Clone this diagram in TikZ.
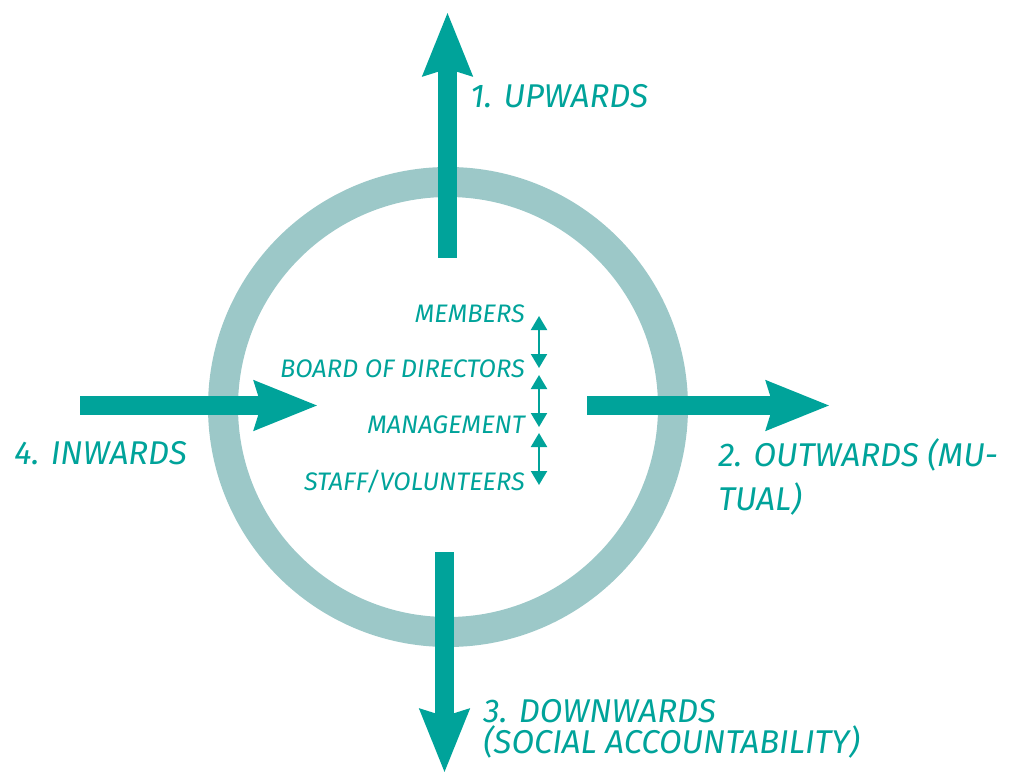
\documentclass[tikz,border=0pt]{standalone}
\usepackage{fontspec}
\newfontfamily\lbl{Fira Sans}
\usetikzlibrary{arrows.meta}
\definecolor{teal1}{HTML}{00A39A}
\definecolor{ringc}{HTML}{9CC8C8}
\tikzset{
  bigarrow/.style={draw=teal1, line width=14.25pt,
    -{Stealth[length=47pt, width=35.5pt, inset=4.5pt]}},
  smallarrow/.style={draw=teal1, line width=1.6pt,
    {Stealth[length=10.5pt, width=12pt, inset=0pt]}-{Stealth[length=10.5pt, width=12pt, inset=0pt]}},
  biglabel/.style={text=teal1, font=\lbl\itshape\fontsize{24.7}{33}\selectfont, inner sep=0pt, align=left},
  smalllabel/.style={text=teal1, font=\lbl\itshape\fontsize{19}{22}\selectfont, inner sep=0pt},
  ringstyle/.style={draw=ringc, line width=22.5pt}
}
\begin{document}
\begin{tikzpicture}[x=0.75pt, y=-0.75pt]
\useasboundingbox (0,0) rectangle (1019,773);
% ring
\coordinate (c) at (448,407);
\draw[ringstyle] (c) circle (168.75pt);
% big arrows
\coordinate (upS) at (447.5,258);
\coordinate (upE) at (447.5,12);
\coordinate (rtS) at (587,405.5);
\coordinate (rtE) at (830,405.5);
\coordinate (inS) at (80,405.5);
\coordinate (inE) at (318,405.5);
\coordinate (dnS) at (444.5,552);
\coordinate (dnE) at (444.5,773);
\draw[bigarrow] (upS) -- (upE);
\draw[bigarrow] (rtS) -- (rtE);
\draw[bigarrow] (inS) -- (inE);
\draw[bigarrow] (dnS) -- (dnE);
% big labels
\node[biglabel, anchor=base west] (l1) at (470,108) {1. UPWARDS};
\node[biglabel, anchor=base west] (l2a) at (718,466) {2. OUTWARDS (MU-};
\node[biglabel, anchor=base west] (l2b) at (718,510) {TUAL)};
\node[biglabel, anchor=base west] (l4) at (14,464) {4. INWARDS};
\node[biglabel, anchor=base west] (l3a) at (483,722) {3. DOWNWARDS};
\node[biglabel, anchor=base west] (l3b) at (483,753) {(SOCIAL ACCOUNTABILITY)};
% hierarchy
\node[smalllabel, anchor=base east] (m1) at (525,322) {MEMBERS};
\node[smalllabel, anchor=base east] (m2) at (525,377) {BOARD OF DIRECTORS};
\node[smalllabel, anchor=base east] (m3) at (525,433) {MANAGEMENT};
\node[smalllabel, anchor=base east] (m4) at (525,490) {STAFF/VOLUNTEERS};
\coordinate (a1) at (539,316);
\coordinate (a2) at (539,368);
\coordinate (a3) at (539,375);
\coordinate (a4) at (539,427);
\coordinate (a5) at (539,433);
\coordinate (a6) at (539,485);
\draw[smallarrow] (a1) -- (a2);
\draw[smallarrow] (a3) -- (a4);
\draw[smallarrow] (a5) -- (a6);
\end{tikzpicture}
\end{document}
